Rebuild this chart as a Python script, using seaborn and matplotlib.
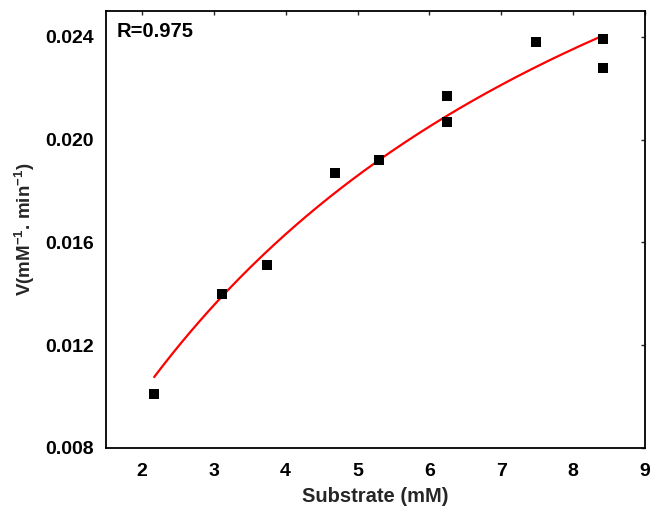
import numpy as np
import pandas as pd
import seaborn as sns
import matplotlib
matplotlib.use("Agg")
import matplotlib.pyplot as plt

# Data
substrate = [2.17, 3.12, 3.74, 4.68, 5.30, 6.24, 6.24, 7.49, 8.42, 8.42]
velocity = [0.0101, 0.0140, 0.0151, 0.0187, 0.0192, 0.0217, 0.0207, 0.0238, 0.0239, 0.0228]
# Michaelis-Menten fit parameters
vmax = 0.0421
km = 6.32
r_text = "R=0.975"
x_ticks = [2, 3, 4, 5, 6, 7, 8, 9]
y_ticks = [0.008, 0.012, 0.016, 0.020, 0.024]

sns.set_theme(style="white")
plt.rcParams['font.family'] = ['Liberation Sans', 'DejaVu Sans']
plt.rcParams['font.weight'] = 'bold'
plt.rcParams['mathtext.default'] = 'bf'

df = pd.DataFrame({"S": substrate, "V": velocity})
s_fit = np.linspace(min(substrate), max(substrate), 200)
fit = pd.DataFrame({"S": s_fit, "V": vmax * s_fit / (km + s_fit)})

fig = plt.figure(figsize=(6.52, 5.08), dpi=100)
ax = fig.add_axes([106/652, 60/508, 539/652, 437/508])

sns.lineplot(data=fit, x="S", y="V", ax=ax, color="#ff0000", linewidth=1.6, zorder=2)
sns.scatterplot(data=df, x="S", y="V", ax=ax, marker="s", color="black", s=48,
                edgecolor="black", linewidth=0, zorder=3)

ax.set_xlim(1.5, 9)
ax.set_ylim(0.008, 0.025)
ax.set_xticks(x_ticks)
ax.set_yticks(y_ticks)
ax.set_xticklabels([str(t) for t in x_ticks], fontsize=14, fontweight='bold')
ax.set_yticklabels([f"{t:.3f}" for t in y_ticks], fontsize=14, fontweight='bold')

for sp in ax.spines.values():
    sp.set_color("black")
    sp.set_linewidth(1.3)
    sp.set_visible(True)

ax.tick_params(axis='both', which='major', direction='out', length=6.5, width=1.3,
               color='black', labelcolor='black')
ax.tick_params(axis='x', pad=4)
ax.tick_params(axis='y', pad=2)
# inward ticks on top/right via secondary axes
sec_x = ax.secondary_xaxis('top')
sec_x.set_xticks(x_ticks)
sec_x.tick_params(direction='in', length=3, width=1.0, labeltop=False)
sec_y = ax.secondary_yaxis('right')
sec_y.set_yticks(y_ticks)
sec_y.tick_params(direction='in', length=3, width=1.0, labelright=False)
ax.tick_params(top=False, right=False)
for s in sec_x.spines.values():
    s.set_visible(False)
for s in sec_y.spines.values():
    s.set_visible(False)

ax.set_xlabel("Substrate (mM)", fontsize=14.5, fontweight='bold', labelpad=5)
ax.set_ylabel(r"V(mM$^{\mathregular{-1}}$. min$^{\mathregular{-1}}$)", fontsize=13.5,
              fontweight='bold', labelpad=6)

ax.text(0.02, 0.975, r_text, transform=ax.transAxes, ha='left', va='top',
        fontsize=14.5, fontweight='bold', color='black')

fig.savefig("out.png", dpi=100)
